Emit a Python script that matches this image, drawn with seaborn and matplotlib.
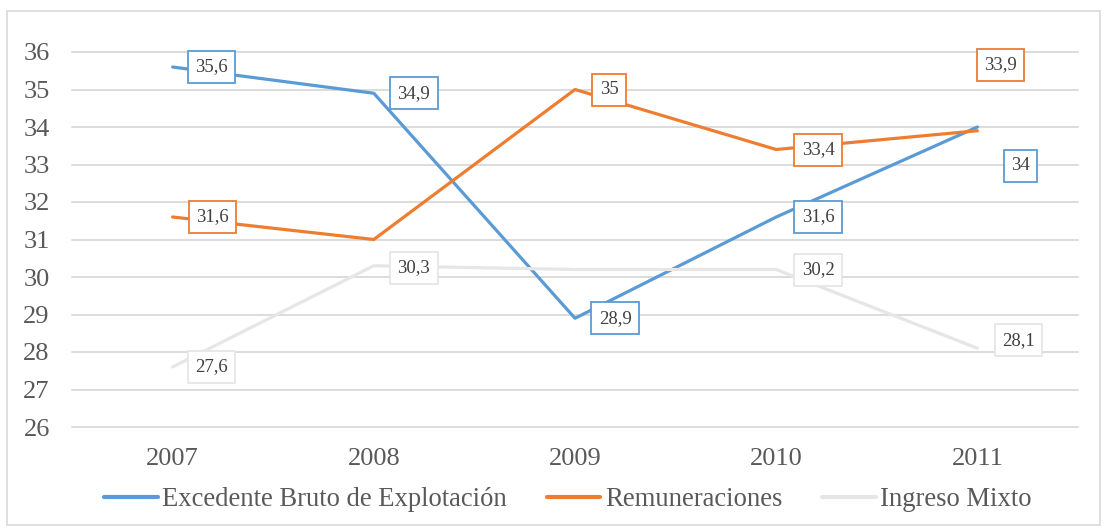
import matplotlib
matplotlib.use("Agg")
import matplotlib.pyplot as plt
import numpy as np
import pandas as pd
import seaborn as sns
from matplotlib.patches import Rectangle

# data
years = ["2007", "2008", "2009", "2010", "2011"]
excedente = [35.6, 34.9, 28.9, 31.6, 34.0]
remuneraciones = [31.6, 31.0, 35.0, 33.4, 33.9]
ingreso_mixto = [27.6, 30.3, 30.2, 30.2, 28.1]

series_names = ["Excedente Bruto de Explotación", "Remuneraciones", "Ingreso Mixto"]
colors = {"Excedente Bruto de Explotación": "#5B9BD5",
          "Remuneraciones": "#ED7D31",
          "Ingreso Mixto": "#E7E6E6"}

# which points carry a data label (None = no label in the original)
labels_exc = ["35,6", "34,9", "28,9", "31,6", "34"]
labels_rem = ["31,6", None, "35", "33,4", "33,9"]
labels_ing = ["27,6", "30,3", None, "30,2", "28,1"]

# label offsets in pixels (dx, dy upward) - labels were moved by hand in the original
offs_exc = [(39, 0), (40, 0), (40, 0), (42, 0), (43, -39)]
offs_rem = [(40, 0), None, (34, 0), (42, 0), (23, 66)]
offs_ing = [(39, 0), (40, -2), None, (42, 0), (41, 8)]

sns.set_style("white")
plt.rcParams["font.family"] = ["Liberation Serif", "DejaVu Serif"]

df = pd.DataFrame({"x": list(range(5)) * 3,
                   "value": excedente + remuneraciones + ingreso_mixto,
                   "serie": [n for n in series_names for _ in years]})

fig = plt.figure(figsize=(11.08, 5.30), dpi=100)
ax = fig.add_axes([72 / 1108, 1 - 427 / 530, 1006 / 1108, 375 / 530])

sns.lineplot(data=df, x="x", y="value", hue="serie", palette=colors,
             hue_order=series_names, linewidth=2.3, ax=ax, sort=False)

ax.set_xlim(-0.5, 4.5)
ax.set_ylim(26, 36)
ax.set_yticks(np.arange(26, 37, 1))
ax.set_xticks(range(5))
ax.set_xticklabels(years)
ax.set_xlabel("")
ax.set_ylabel("")
for s in ax.spines.values():
    s.set_visible(False)
ax.grid(axis="y", color="#D9D9D9", linewidth=1.3)
ax.set_axisbelow(True)
for gl in ax.get_ygridlines():
    gl.set_clip_on(False)
ax.tick_params(axis="both", length=0, labelsize=19, colors="#595959")
ax.tick_params(axis="y", pad=16)
ax.tick_params(axis="x", pad=15)

# data labels with coloured boxes
px = 72 / 100.0
for name, vals, labs, offs in [(series_names[0], excedente, labels_exc, offs_exc),
                               (series_names[1], remuneraciones, labels_rem, offs_rem),
                               (series_names[2], ingreso_mixto, labels_ing, offs_ing)]:
    for i, (v, lab, off) in enumerate(zip(vals, labs, offs)):
        if lab is None:
            continue
        ax.annotate(lab, xy=(i, v), xytext=(off[0] * px, off[1] * px),
                    textcoords="offset points", ha="center", va="center",
                    fontsize=13.5, color="#404040", zorder=5,
                    bbox=dict(boxstyle="square,pad=0.4", fc="white",
                              ec=colors[name], lw=1.3))

leg = ax.legend(loc="center", bbox_to_anchor=(568 / 1108, 1 - 500 / 530),
                bbox_transform=fig.transFigure, ncol=3, frameon=False,
                fontsize=19.2, handlelength=2.0, handletextpad=0.17,
                columnspacing=1.5)
for t in leg.get_texts():
    t.set_color("#595959")
for h in leg.get_lines():
    h.set_linewidth(3)

# outer chart border
fig.patches.append(Rectangle((7 / 1108, 5 / 530), 1093 / 1108, 514 / 530,
                             transform=fig.transFigure, fill=False,
                             ec="#D9D9D9", lw=1.2))

fig.savefig("out.png", dpi=100)
